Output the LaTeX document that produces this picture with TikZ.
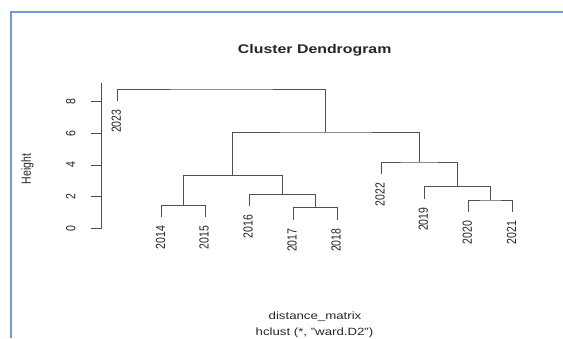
\documentclass[tikz,border=0pt]{standalone}
\usepackage{fontspec}
\setmainfont{Liberation Sans}
\definecolor{framecol}{RGB}{114,152,222}
\definecolor{treecol}{RGB}{80,80,80}
\begin{document}
\begin{tikzpicture}[x=1pt,y=-1pt,
  tree/.style={draw=treecol, line width=1pt},
  axisline/.style={draw=treecol, line width=1pt},
  leaflabel/.style={inner sep=0pt, font=\fontsize{10.5}{12}\selectfont, text=black!85, xscale=1.26, rotate=90, anchor=east},
  ticklabel/.style={inner sep=0pt, font=\fontsize{10.5}{12}\selectfont, text=black!85, xscale=1.26, rotate=90, anchor=center},
  plaintext/.style={inner sep=0pt, font=\fontsize{10.5}{12}\selectfont, text=black!85, xscale=1.26},
]
\useasboundingbox (0,0) rectangle (563,338);
\fill[white] (0,0) rectangle (563,338);
% frame
\draw[framecol, line width=2.4pt] (11,338) -- (11,12) -- (563,12);

% title and subtitles
\node[plaintext, font=\fontsize{12.6}{14}\selectfont\bfseries] (title) at (314.7,50) {Cluster Dendrogram};
\node[plaintext] (xlab) at (315,316.5) {distance\_matrix};
\node[plaintext] (sub) at (314.5,332.5) {hclust (*, "ward.D2")};
\node[ticklabel] (ylab) at (27.5,169) {Height};

% axis
\coordinate (ax0) at (101.7,228.3);
\coordinate (ax1) at (101.7,82.7);
\draw[axisline] (ax0) -- (ax1);
\foreach \v/\yy in {0/228.3,2/196.7,4/165.0,6/133.3,8/101.7}{
  \coordinate (t\v) at (101.7,\yy);
  \coordinate (tl\v) at (90.7,\yy);
  \draw[axisline] (t\v) -- (tl\v);
  \node[ticklabel] (tn\v) at (70.7,\yy) {\v};
}

% merge points
\coordinate (m1) at (183.2,205.3);
\coordinate (m2) at (315.0,207.7);
\coordinate (m3) at (282.0,194.3);
\coordinate (m4) at (232.6,175.3);
\coordinate (m5) at (490.5,200.0);
\coordinate (m6) at (457.4,186.7);
\coordinate (m7) at (419.2,162.0);
\coordinate (m8) at (325.9,132.0);
\coordinate (root) at (221.6,89.0);

% leaves (x, end y)
\coordinate (l2023) at (117.3,100.8);
\coordinate (l2014) at (161.5,217.3);
\coordinate (l2015) at (205.0,217.3);
\coordinate (l2016) at (249.0,206.3);
\coordinate (l2017) at (293.0,219.8);
\coordinate (l2018) at (337.0,219.8);
\coordinate (l2022) at (381.0,174.0);
\coordinate (l2019) at (424.3,198.7);
\coordinate (l2020) at (468.3,212.0);
\coordinate (l2021) at (512.5,212.0);

% tree
\draw[tree] (l2014) |- (m1) -| (l2015);
\draw[tree] (l2017) |- (m2) -| (l2018);
\draw[tree] (l2016) |- (m3) -| (m2);
\draw[tree] (m1) |- (m4) -| (m3);
\draw[tree] (l2020) |- (m5) -| (l2021);
\draw[tree] (l2019) |- (m6) -| (m5);
\draw[tree] (l2022) |- (m7) -| (m6);
\draw[tree] (m4) |- (m8) -| (m7);
\draw[tree] (l2023) |- (root) -| (m8);

% leaf labels
\foreach \n in {2023,2014,2015,2016,2017,2018,2022,2019,2020,2021}{
  \node[leaflabel] (lab\n) at ([xshift=-1pt,yshift=-8.6pt]l\n) {\n};
}
\end{tikzpicture}
\end{document}
